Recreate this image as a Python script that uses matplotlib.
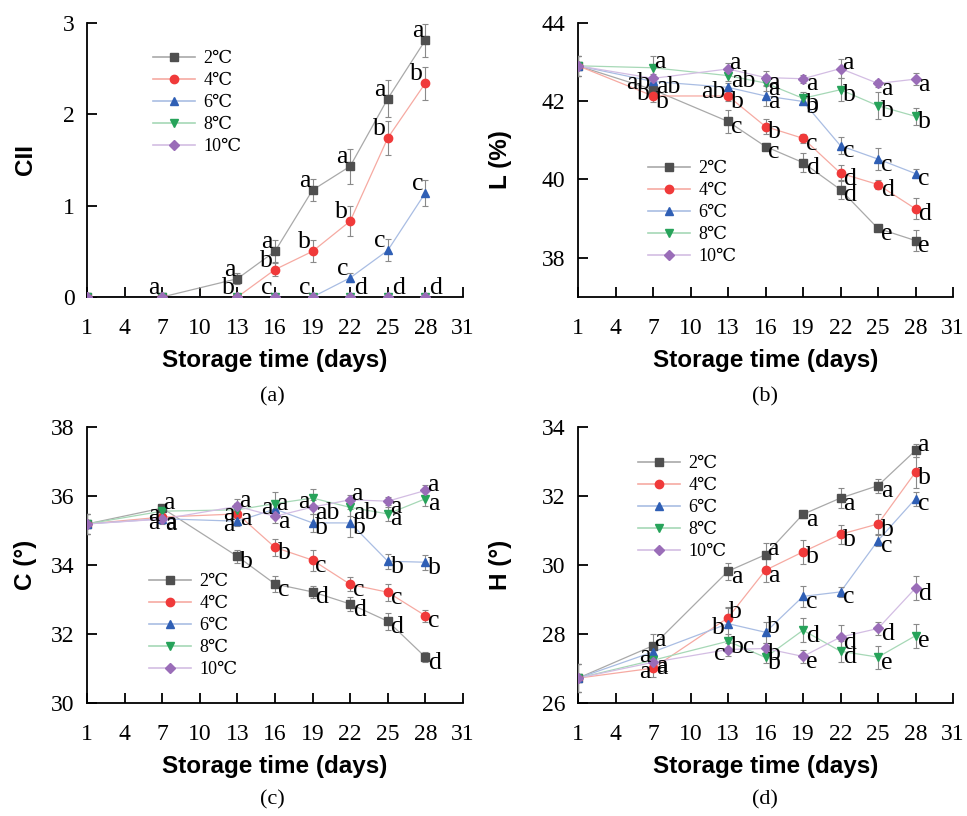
import matplotlib
matplotlib.use("Agg")
import matplotlib.pyplot as plt

# 储藏天数与温度
days = [1, 7, 13, 16, 19, 22, 25, 28]
temps = ['2℃', '4℃', '6℃', '8℃', '10℃']

# (a) CII
cii = {
    '2℃': [0, 0, 0.20, 0.50, 1.17, 1.43, 2.17, 2.81],
    '4℃': [0, 0, 0, 0.30, 0.50, 0.83, 1.74, 2.34],
    '6℃': [0, 0, 0, 0, 0, 0.21, 0.51, 1.14],
    '8℃': [0, 0, 0, 0, 0, 0, 0, 0],
    '10℃': [0, 0, 0, 0, 0, 0, 0, 0],
}
cii_err = {
    '2℃': [0, 0, 0.06, 0.12, 0.12, 0.19, 0.20, 0.18],
    '4℃': [0, 0, 0, 0.07, 0.12, 0.16, 0.19, 0.18],
    '6℃': [0, 0, 0, 0, 0, 0.05, 0.12, 0.14],
    '8℃': [0] * 8,
    '10℃': [0] * 8,
}
cii_sig = {
    '2℃': ['', '', 'a', 'a', 'a', 'a', 'a', 'a'],
    '4℃': ['', '', '', 'b', 'b', 'b', 'b', 'b'],
    '6℃': ['', '', '', '', '', 'c', 'c', 'c'],
    '8℃': [''] * 8,
    '10℃': ['', 'a', 'b', 'c', 'c', 'd', 'd', 'd'],
}

# (b) L (%)
lval = {
    '2℃': [42.90, 42.29, 41.48, 40.84, 40.43, 39.74, 38.75, 38.44],
    '4℃': [42.90, 42.13, 42.13, 41.35, 41.05, 40.16, 39.87, 39.25],
    '6℃': [42.90, 42.50, 42.35, 42.13, 41.99, 40.86, 40.52, 40.15],
    '8℃': [42.90, 42.85, 42.65, 42.46, 42.07, 42.29, 41.88, 41.61],
    '10℃': [42.90, 42.58, 42.82, 42.60, 42.57, 42.83, 42.45, 42.56],
}
lval_err = {
    '2℃': [0.25, 0.10, 0.30, 0.08, 0.25, 0.25, 0.05, 0.27],
    '4℃': [0.25, 0.15, 0.12, 0.20, 0.12, 0.20, 0.12, 0.27],
    '6℃': [0.25, 0.12, 0.10, 0.25, 0.10, 0.22, 0.27, 0.12],
    '8℃': [0.25, 0.30, 0.15, 0.20, 0.15, 0.30, 0.35, 0.22],
    '10℃': [0.25, 0.10, 0.15, 0.18, 0.10, 0.25, 0.10, 0.15],
}
lval_sig = {
    '2℃': ['', 'b', 'c', 'c', 'd', 'd', 'e', 'e'],
    '4℃': ['', 'b', 'b', 'b', 'c', 'd', 'd', 'd'],
    '6℃': ['', 'ab', 'ab', 'a', 'b', 'c', 'c', 'c'],
    '8℃': ['', 'a', 'ab', 'a', 'b', 'b', 'b', 'b'],
    '10℃': ['', 'ab', 'a', 'a', 'a', 'a', 'a', 'a'],
}
lval_left = {('2℃', 1), ('10℃', 1), ('6℃', 2)}
lval_up = {('8℃', 1), ('10℃', 2), ('10℃', 5)}

# (c) C (°)
cval = {
    '2℃': [35.19, 35.65, 34.25, 33.45, 33.22, 32.87, 32.37, 31.33],
    '4℃': [35.19, 35.39, 35.48, 34.51, 34.14, 33.44, 33.21, 32.53],
    '6℃': [35.19, 35.34, 35.27, 35.62, 35.22, 35.22, 34.11, 34.08],
    '8℃': [35.19, 35.56, 35.60, 35.78, 35.94, 35.67, 35.48, 35.92],
    '10℃': [35.19, 35.33, 35.70, 35.41, 35.68, 35.89, 35.85, 36.16],
}
cval_err = {
    '2℃': [0.30, 0.10, 0.18, 0.22, 0.18, 0.20, 0.25, 0.15],
    '4℃': [0.30, 0.15, 0.12, 0.25, 0.30, 0.20, 0.25, 0.18],
    '6℃': [0.30, 0.12, 0.15, 0.20, 0.25, 0.40, 0.22, 0.22],
    '8℃': [0.30, 0.12, 0.20, 0.35, 0.25, 0.25, 0.20, 0.20],
    '10℃': [0.30, 0.15, 0.22, 0.20, 0.20, 0.15, 0.12, 0.15],
}
cval_sig = {
    '2℃': ['', 'a', 'b', 'c', 'd', 'd', 'd', 'd'],
    '4℃': ['', 'a', 'a', 'b', 'c', 'c', 'c', 'c'],
    '6℃': ['', 'a', 'a', 'a', 'b', 'b', 'b', 'b'],
    '8℃': ['', 'a', 'a', 'a', 'a', 'ab', 'a', 'a'],
    '10℃': ['', 'a', 'a', 'a', 'ab', 'a', 'a', 'a'],
}
cval_left = {('8℃', 1), ('10℃', 1), ('8℃', 2), ('6℃', 2), ('8℃', 3), ('8℃', 4)}
cval_up = {('2℃', 1), ('10℃', 2), ('6℃', 3), ('10℃', 5), ('10℃', 7)}

# (d) H (°)
hval = {
    '2℃': [26.72, 27.66, 29.82, 30.30, 31.47, 31.94, 32.30, 33.32],
    '4℃': [26.72, 27.01, 28.47, 29.85, 30.38, 30.89, 31.19, 32.69],
    '6℃': [26.72, 27.48, 28.30, 28.05, 29.09, 29.22, 30.71, 31.92],
    '8℃': [26.72, 27.24, 27.79, 27.32, 28.11, 27.50, 27.33, 27.95],
    '10℃': [26.72, 27.18, 27.55, 27.58, 27.35, 27.91, 28.16, 29.33],
}
hval_err = {
    '2℃': [0.40, 0.35, 0.25, 0.35, 0.10, 0.28, 0.20, 0.20],
    '4℃': [0.40, 0.25, 0.30, 0.35, 0.35, 0.28, 0.30, 0.45],
    '6℃': [0.40, 0.20, 0.45, 0.30, 0.30, 0.15, 0.15, 0.20],
    '8℃': [0.40, 0.15, 0.20, 0.15, 0.35, 0.30, 0.33, 0.35],
    '10℃': [0.40, 0.20, 0.18, 0.15, 0.20, 0.35, 0.20, 0.35],
}
hval_sig = {
    '2℃': ['', 'a', 'a', 'a', 'a', 'a', 'a', 'a'],
    '4℃': ['', 'a', 'b', 'a', 'b', 'b', 'b', 'b'],
    '6℃': ['', 'a', 'b', 'b', 'c', 'c', 'c', 'c'],
    '8℃': ['', 'a', 'bc', 'b', 'd', 'd', 'e', 'e'],
    '10℃': ['', 'a', 'c', 'b', 'e', 'd', 'd', 'd'],
}
hval_left = {('6℃', 1), ('4℃', 1), ('6℃', 2), ('10℃', 2)}
hval_up = {('2℃', 1), ('2℃', 3), ('2℃', 7), ('4℃', 2), ('6℃', 3)}

# 颜色: 标记 / 连线
marker_colors = ['#4f4f4f', '#f03a3a', '#2f5fb5', '#27a35a', '#9a6db8']
line_colors = ['#a9a9a9', '#f6aaa2', '#a9bde3', '#a6d8b6', '#d3bde3']
markers = ['s', 'o', '^', 'v', 'D']
msizes = [5.5, 6, 6, 6, 5]

SERIF = ['Liberation Serif', 'DejaVu Serif', 'Noto Sans CJK SC']
SANS = ['Liberation Sans', 'DejaVu Sans']
LETTER_SIZE = 18.5

W, H = 967, 816
fig = plt.figure(figsize=(W / 100, H / 100), dpi=100)


def px_axes(x0, y0, x1, y1):
    return fig.add_axes([x0 / W, 1 - y1 / H, (x1 - x0) / W, (y1 - y0) / H])


def put_letter(ax, s, xy, off, ha, va):
    ax.annotate(s, xy, xytext=off, textcoords='offset points', ha=ha, va=va,
                fontsize=LETTER_SIZE, family=SERIF, zorder=10)


def draw_panel(ax, vals, errs, sig, left, up, ylim, yticks, ylabel, leg_xy,
               mode='side'):
    handles = []
    for i, t in enumerate(temps):
        ax.plot(days, vals[t], color=line_colors[i], lw=0.9, zorder=2)
        ax.errorbar(days, vals[t], yerr=errs[t], fmt='none', ecolor='#8a8a8a',
                    elinewidth=0.8, capsize=2.5, capthick=0.8, zorder=3)
        ax.plot(days, vals[t], ls='none', marker=markers[i], ms=msizes[i],
                mfc=marker_colors[i], mec=marker_colors[i], zorder=4 + i)
        h, = ax.plot([], [], color=line_colors[i], lw=1.2, marker=markers[i],
                     ms=msizes[i], mfc=marker_colors[i], mec=marker_colors[i])
        handles.append(h)
        for j, s in enumerate(sig[t]):
            if not s:
                continue
            xy = (days[j], vals[t][j])
            if mode == 'above':
                if s == 'd':
                    put_letter(ax, s, xy, (3, -1.5), 'left', 'bottom')
                else:
                    put_letter(ax, s, xy, (-1.5, -1.5), 'right', 'bottom')
            elif (t, j) in left:
                put_letter(ax, s, xy, (-2, -3), 'right', 'center')
            elif (t, j) in up:
                put_letter(ax, s, xy, (1, 4), 'left', 'center')
            else:
                put_letter(ax, s, xy, (2, -4), 'left', 'center')

    ax.set_xlim(1, 31)
    ax.set_xticks(range(1, 32, 3))
    ax.set_ylim(*ylim)
    ax.set_yticks(yticks)
    for sp in ['top', 'right']:
        ax.spines[sp].set_visible(False)
    for sp in ['left', 'bottom']:
        ax.spines[sp].set_linewidth(1.3)
    ax.tick_params(axis='both', direction='in', length=7, width=1.3,
                   labelsize=17)
    ax.tick_params(axis='x', pad=15)
    ax.tick_params(axis='y', pad=9)
    for lab in ax.get_xticklabels() + ax.get_yticklabels():
        lab.set_family(SERIF)
    ax.set_xlabel('Storage time (days)', fontsize=17.5, fontweight='bold',
                  family=SANS, labelpad=7)
    ax.set_ylabel(ylabel, fontsize=17.5, fontweight='bold', family=SANS)
    ax.patch.set_alpha(0)

    lx, ly = leg_xy
    ax.legend(handles, temps, loc='upper left',
              bbox_to_anchor=(lx / W, 1 - (ly - 5) / H),
              bbox_transform=fig.transFigure, frameon=False, borderpad=0,
              borderaxespad=0, handlelength=2.3, handletextpad=0.5,
              labelspacing=0.28, prop={'family': SERIF, 'size': 13})


ax_a = px_axes(87, 22.7, 463, 297)
ax_b = px_axes(578, 22.7, 953, 297)
ax_c = px_axes(87, 427, 463, 703)
ax_d = px_axes(578, 427, 953, 703)

draw_panel(ax_a, cii, cii_err, cii_sig, set(), set(), (0, 3), [0, 1, 2, 3], 'CII',
           (153, 55), mode='above')
draw_panel(ax_b, lval, lval_err, lval_sig, lval_left, lval_up, (37, 44),
           [38, 40, 42, 44], 'L (%)', (648, 165))
draw_panel(ax_c, cval, cval_err, cval_sig, cval_left, cval_up, (30, 38),
           [30, 32, 34, 36, 38], 'C (°)', (149, 578))
draw_panel(ax_d, hval, hval_err, hval_sig, hval_left, hval_up, (26, 34),
           [26, 28, 30, 32, 34], 'H (°)', (638, 460))

ax_a.yaxis.set_label_coords((37 - 87) / 376, 0.5)
ax_c.yaxis.set_label_coords((37 - 87) / 376, 0.5)
ax_b.yaxis.set_label_coords((512 - 578) / 375, 0.5)
ax_d.yaxis.set_label_coords((512 - 578) / 375, 0.5)

for lab, (cx, cy) in zip(['(a)', '(b)', '(c)', '(d)'],
                         [(272, 397), (765, 397), (272, 800), (765, 800)]):
    fig.text(cx / W, 1 - cy / H, lab, ha='center', va='center', fontsize=16,
             family=SERIF)

fig.savefig('out.png', dpi=100)
